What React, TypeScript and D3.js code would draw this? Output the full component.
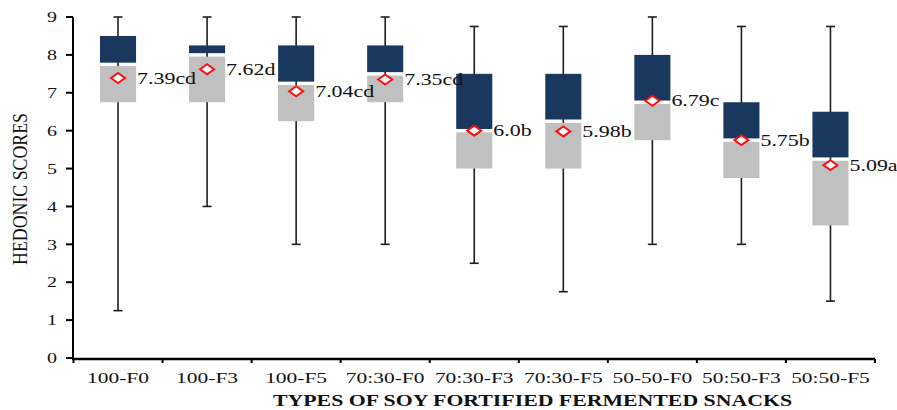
import React from "react";
import * as d3 from "d3";

const categories = ["100-F0", "100-F3", "100-F5", "70:30-F0", "70:30-F3", "70:30-F5", "50-50-F0", "50:50-F3", "50:50-F5"];
const mins = [1.25, 4, 3, 3, 2.5, 1.75, 3, 3, 1.5];
const q1s = [6.75, 6.75, 6.25, 6.75, 5, 5, 5.75, 4.75, 3.5];
const medians = [7.75, 8, 7.25, 7.5, 6, 6.25, 6.75, 5.75, 5.25];
const q3s = [8.5, 8.25, 8.25, 8.25, 7.5, 7.5, 8, 6.75, 6.5];
const maxs = [9, 9, 9, 9, 8.75, 8.75, 9, 8.75, 8.75];
const means = [7.39, 7.62, 7.04, 7.35, 6.0, 5.98, 6.79, 5.75, 5.09];
const meanLabels = ["7.39cd", "7.62d", "7.04cd", "7.35cd", "6.0b", "5.98b", "6.79c", "5.75b", "5.09a"];
const yTicks = [0, 1, 2, 3, 4, 5, 6, 7, 8, 9];
const xTitle = "TYPES OF SOY FORTIFIED FERMENTED SNACKS";
const yTitle = "HEDONIC SCORES";

const W = 897, H = 410;
const FONT = "'Liberation Serif', 'Times New Roman', Times, serif";

// Times-like advance widths (em) to size stretched text
const TW: Record<string, number> = { ".": 0.25, ":": 0.278, "-": 0.333, a: 0.444, b: 0.5, c: 0.444, d: 0.5, F: 0.556 };
const tWidth = (s: string, size: number, stretch: number) =>
  s.split("").reduce((acc, ch) => acc + (TW[ch] ?? 0.5), 0) * size * stretch;

export default function App() {
  const x = d3.scaleBand<string>().domain(categories).range([73.5, 875]).padding(0);
  const y = d3.scaleLinear().domain([0, 9]).range([358, 17]);
  const bw = x.bandwidth() * 0.405;
  const gap = 1.7;
  const cxOf = (c: string) => (x(c) as number) + x.bandwidth() / 2;

  return (
    <svg width={W} height={H} style={{ position: "absolute", left: 0, top: 0, background: "#fff", fontFamily: FONT }}>
      {categories.map((c, i) => {
        const cx = cxOf(c);
        const capW = 9;
        return (
          <g key={c}>
            <line x1={cx} x2={cx} y1={y(maxs[i])} y2={y(mins[i])} stroke="#1e1e1e" strokeWidth={1.6} />
            <line x1={cx - capW / 2} x2={cx + capW / 2} y1={y(maxs[i])} y2={y(maxs[i])} stroke="#1e1e1e" strokeWidth={1.6} />
            <line x1={cx - capW / 2} x2={cx + capW / 2} y1={y(mins[i])} y2={y(mins[i])} stroke="#1e1e1e" strokeWidth={1.6} />
            <rect x={cx - bw / 2} width={bw} y={y(q3s[i])} height={Math.max(0, y(medians[i]) - gap - y(q3s[i]))} fill="#1a375e" />
            <rect x={cx - bw / 2} width={bw} y={y(medians[i]) + gap} height={Math.max(0, y(q1s[i]) - y(medians[i]) - gap)} fill="#c0c0c0" />
            <path
              d={`M${cx - 7},${y(means[i])} L${cx},${y(means[i]) - 5} L${cx + 7},${y(means[i])} L${cx},${y(means[i]) + 5} Z`}
              fill="#fff" stroke="#ff1010" strokeWidth={2}
            />
          </g>
        );
      })}
      {categories.map((c, i) => (
        <text key={c}
          x={cxOf(c) + bw / 2 + 1} y={y(means[i])} dy="0.35em" fontSize={16} fill="#111" textAnchor="start"
          textLength={tWidth(meanLabels[i], 16, 1.37)} lengthAdjust="spacingAndGlyphs"
        >{meanLabels[i]}</text>
      ))}

      <line x1={73} x2={73} y1={y(9)} y2={359.5} stroke="#000" strokeWidth={2} />
      {yTicks.map((t) => (
        <g key={t}>
          <line x1={66} x2={73} y1={y(t)} y2={y(t)} stroke="#000" strokeWidth={2} />
          <text x={57} y={y(t)} dy="0.35em" fontSize={15} textAnchor="end" fill="#111"
            textLength={10} lengthAdjust="spacingAndGlyphs">{t}</text>
        </g>
      ))}

      <line x1={72} x2={875} y1={359} y2={359} stroke="#000" strokeWidth={2.5} />
      {[...categories.map((c) => x(c) as number), 875].map((v, i) => (
        <line key={i} x1={v} x2={v} y1={359} y2={363} stroke="#000" strokeWidth={2} />
      ))}
      {categories.map((c) => (
        <text key={c} x={cxOf(c)} y={383} fontSize={15} textAnchor="middle" fill="#111"
          textLength={tWidth(c, 15, 1.43)} lengthAdjust="spacingAndGlyphs">{c}</text>
      ))}

      <text x={532.5} y={406} fontSize={16} fontWeight="bold" textAnchor="middle" textLength={519} lengthAdjust="spacingAndGlyphs" fill="#111">{xTitle}</text>
      <text transform="translate(27,189) rotate(-90) scale(1,1.3)" fontSize={16} textAnchor="middle" textLength={152} lengthAdjust="spacingAndGlyphs" fill="#111">{yTitle}</text>
    </svg>
  );
}
